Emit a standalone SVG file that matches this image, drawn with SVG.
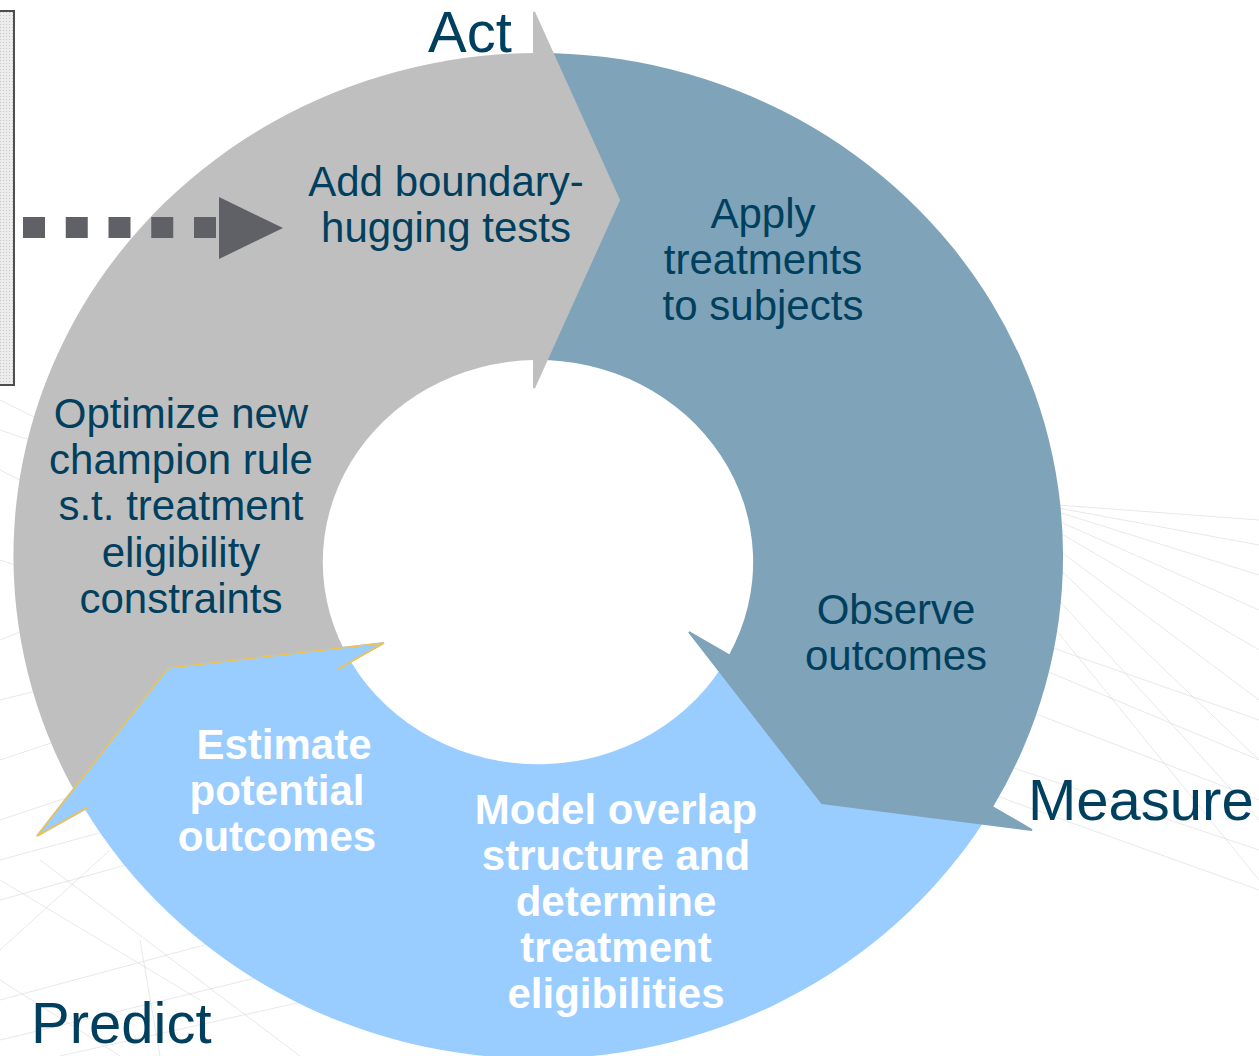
<svg xmlns="http://www.w3.org/2000/svg" width="1259" height="1056" viewBox="0 0 1259 1056">
<style>
.lbl{font-family:"Liberation Sans",Arial,sans-serif;fill:#00405e;text-anchor:middle;font-size:42px}
.wb{font-family:"Liberation Sans",Arial,sans-serif;fill:#ffffff;font-weight:bold;text-anchor:middle;font-size:42px}
.big{font-family:"Liberation Sans",Arial,sans-serif;fill:#00405e;font-size:58px}
.bg{stroke:#d6d6d6;stroke-width:1;fill:none;opacity:0.55}
</style>
<defs>
<pattern id="dots" width="3" height="3" patternUnits="userSpaceOnUse">
<rect width="3" height="3" fill="#ececec"/>
<rect width="1" height="1" fill="#c8c8c8"/>
</pattern>
</defs>
<rect width="1259" height="1056" fill="#ffffff"/>
<g id="background">
<path class="bg" d="M1058 505 L1259 520 M1058 508 L1259 545 M1058 512 L1259 575 M1056 520 L1259 610 M1055 530 L1259 650 M1052 545 L1259 700 M1050 560 L1259 760 M1045 585 L1259 820 M1040 610 L1259 880 M1030 640 L1259 720 M1020 660 L1259 760 M1000 700 L1259 800 M990 760 L1259 850 M980 790 L1259 890"/>
<path class="bg" d="M0 400 L40 420 M0 430 L30 440 M0 470 L20 480 M0 560 L15 565 M0 640 L25 630 M0 700 L40 690 M0 760 L60 740 M0 820 L90 790 M0 860 L110 830 M0 900 L180 850 M0 950 L110 850 M0 1000 L260 930 M0 1040 L330 960 M60 1056 L400 980 M0 880 L200 1000 M0 980 L120 1056 M40 860 L300 1056 M140 940 L160 1056"/>
</g>
<g id="left-box">
<rect x="-5" y="11" width="19" height="374" fill="url(#dots)" stroke="#4d4d4d" stroke-width="2"/>
</g>
<g id="node-act">
<path d="M85,809.5 A525 503 0 0 1 534,53 L534,360 A215 202 0 0 0 351,662 Z" fill="#bfbfbf"/>
</g>
<g id="node-measure">
<path d="M534,53 A525 503 0 0 1 993,807 L729,655 A215 202 0 0 0 534,360 Z" fill="#7fa3b8"/>
</g>
<g id="node-predict">
<path d="M993,807 A525 503 0 0 1 85,809.5 L351,662 A215 202 0 0 0 729,655 Z" fill="#99ccff"/>
</g>
<g id="arrowheads">
<polygon points="534,12 619,200 534,388" fill="#bfbfbf" stroke="#bfbfbf" stroke-width="2"/>
<polygon points="689,632 1032,830 822,803" fill="#7fa3b8" stroke="#7fa3b8" stroke-width="2"/>
<polygon points="384,643 37,836 168,668" fill="#99ccff" stroke="#99ccff" stroke-width="2"/>
<polyline points="338,669 384,643 168,668 37,836 88,807" fill="none" stroke="#f2c14a" stroke-width="1.6" stroke-linejoin="miter"/>
</g>
<g id="connectors">
<path d="M23 227.5 H216" stroke="#5f6166" stroke-width="21" stroke-dasharray="22 20.75" fill="none"/>
<polygon points="219,197 283,228 219,259" fill="#5f6166"/>
</g>
<g id="labels-act">
<text class="big" x="428" y="52" font-size="57">Act</text>
<text class="lbl" x="446" y="196">Add boundary-</text>
<text class="lbl" x="446" y="242">hugging tests</text>
<text class="lbl" x="181" y="428">Optimize new</text>
<text class="lbl" x="181" y="474">champion rule</text>
<text class="lbl" x="181" y="520">s.t. treatment</text>
<text class="lbl" x="181" y="567">eligibility</text>
<text class="lbl" x="181" y="613">constraints</text>
</g>
<g id="labels-measure">
<text class="big" x="1028" y="820">Measure</text>
<text class="lbl" x="763" y="228">Apply</text>
<text class="lbl" x="763" y="274">treatments</text>
<text class="lbl" x="763" y="320">to subjects</text>
<text class="lbl" x="896" y="624">Observe</text>
<text class="lbl" x="896" y="670">outcomes</text>
</g>
<g id="labels-predict">
<text class="big" x="31" y="1043" font-size="56">Predict</text>
<text class="wb" x="284" y="759">Estimate</text>
<text class="wb" x="277" y="805">potential</text>
<text class="wb" x="277" y="851">outcomes</text>
<text class="wb" x="616" y="824">Model overlap</text>
<text class="wb" x="616" y="870">structure and</text>
<text class="wb" x="616" y="916">determine</text>
<text class="wb" x="616" y="962">treatment</text>
<text class="wb" x="616" y="1008">eligibilities</text>
</g>
</svg>
